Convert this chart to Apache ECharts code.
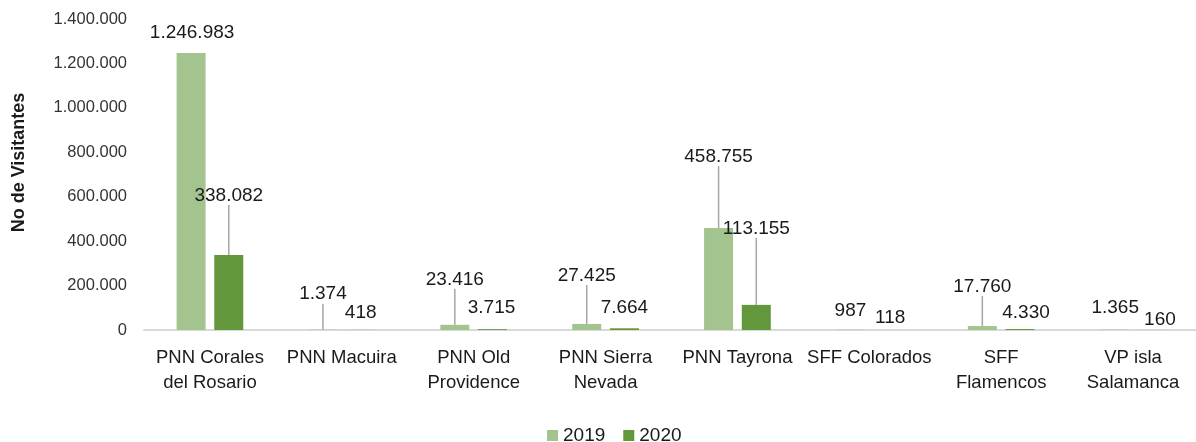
<!DOCTYPE html>
<html>
<head>
<meta charset="utf-8">
<script src="https://cdn.jsdelivr.net/npm/echarts@6/dist/echarts.min.js"></script>
<style>
html,body{margin:0;padding:0;background:#fff;}
#c{width:1196px;height:442px;}
</style>
</head>
<body>
<div id="c"></div>
<script>
const categories = ["PNN Corales\ndel Rosario", "PNN Macuira", "PNN Old\nProvidence", "PNN Sierra\nNevada", "PNN Tayrona", "SFF Colorados", "SFF\nFlamencos", "VP isla\nSalamanca"];
const seriesNames = ["2019", "2020"];
const values2019 = [1246983, 1374, 23416, 27425, 458755, 987, 17760, 1365];
const values2020 = [338082, 418, 3715, 7664, 113155, 118, 4330, 160];
const yTicks = [0, 200000, 400000, 600000, 800000, 1000000, 1200000, 1400000];
const axisTitle = "No de Visitantes";

// label placement (pixel offsets from the default "top" label position) and leader-line flags
const labelPlacement = [
  // 2019
  [{dx:1,dy:-5.5,line:false},{dx:0,dy:-21,line:true},{dx:0,dy:-31,line:true},{dx:0,dy:-34,line:true},{dx:0,dy:-57,line:true},{dx:0,dy:-5,line:false},{dx:0,dy:-25,line:true},{dx:1,dy:-7.5,line:false}],
  // 2020
  [{dx:0,dy:-45,line:true},{dx:0,dy:-3,line:false},{dx:-1,dy:-7,line:false},{dx:0,dy:-6,line:false},{dx:0,dy:-62,line:true},{dx:2,dy:2,line:false},{dx:6,dy:-1.5,line:false},{dx:8,dy:4,line:false}]
];

const FONT = "'Liberation Sans', Arial, sans-serif";
const colors = ["#a3c48f", "#62983b"];

function fmt(v){
  return String(Math.round(v)).replace(/\B(?=(\d{3})+(?!\d))/g, ".");
}

function makeSeries(idx, vals){
  return {
    name: seriesNames[idx],
    type: "bar",
    barWidth: 29,
    barGap: "30%",
    itemStyle: {color: colors[idx]},
    data: vals.map((v, i) => ({
      value: v,
      labelLine: {show: labelPlacement[idx][i].line}
    })),
    label: {
      show: true,
      position: "top",
      distance: 5,
      color: "#1a1a1a",
      fontFamily: FONT,
      fontSize: 19,
      formatter: p => fmt(p.value)
    },
    labelLine: {
      show: true,
      lineStyle: {color: "#a6a6a6", width: 1.5}
    },
    labelLayout: function(params){
      const pl = labelPlacement[idx][params.dataIndex];
      return {dx: pl.dx, dy: pl.dy};
    }
  };
}

const chart = echarts.init(document.getElementById("c"), null, {renderer: "canvas"});
chart.setOption({
  animation: false,
  backgroundColor: "#ffffff",
  color: colors,
  grid: {left: 144, top: 19, width: 1055, bottom: 112, containLabel: false, outerBoundsMode: "none"},
  legend: {
    data: seriesNames,
    top: 421,
    left: 542,
    icon: "rect",
    itemWidth: 11,
    itemHeight: 11,
    itemGap: 18,
    textStyle: {fontFamily: FONT, fontSize: 19, color: "#1a1a1a"}
  },
  xAxis: {
    type: "category",
    data: categories,
    axisLine: {lineStyle: {color: "#d9d9d9", width: 2}},
    axisTick: {show: false},
    axisLabel: {
      interval: 0,
      margin: 16,
      fontFamily: FONT,
      fontSize: 18.5,
      lineHeight: 24.5,
      color: "#1a1a1a"
    }
  },
  yAxis: {
    type: "value",
    min: yTicks[0],
    max: yTicks[yTicks.length - 1],
    interval: yTicks[1] - yTicks[0],
    name: axisTitle,
    nameLocation: "middle",
    nameGap: 116,
    nameRotate: 90,
    nameTextStyle: {fontFamily: FONT, fontSize: 18, fontWeight: "bold", color: "#1a1a1a", padding: [0, 0, 0, 24]},
    axisLine: {show: false},
    axisTick: {show: false},
    splitLine: {show: false},
    axisLabel: {
      margin: 17,
      fontFamily: FONT,
      fontSize: 16.5,
      color: "#333333",
      formatter: v => fmt(v)
    }
  },
  series: [makeSeries(0, values2019), makeSeries(1, values2020)]
});
</script>
</body>
</html>
